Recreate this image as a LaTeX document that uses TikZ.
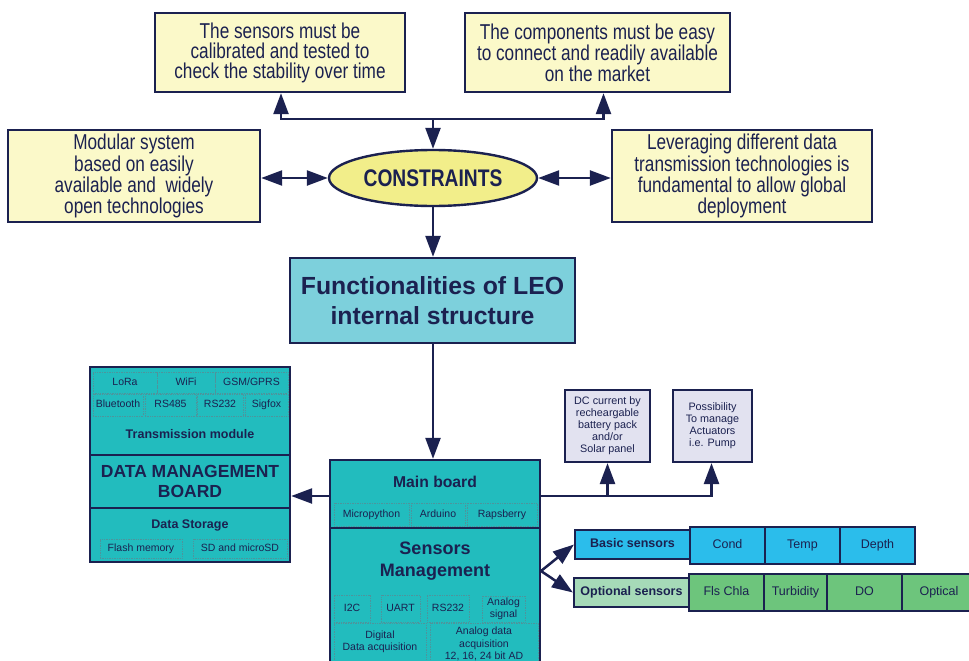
\documentclass[tikz,border=0pt]{standalone}
\usepackage{fontspec}
\setmainfont{Liberation Sans}
\newfontfamily\nar[FakeStretch=0.80]{Liberation Sans}
\usetikzlibrary{arrows.meta,shapes.geometric,calc}
\definecolor{navy}{HTML}{1B2150}
\definecolor{ybox}{HTML}{FBF9C9}
\definecolor{yell}{HTML}{F2EE8A}
\definecolor{func}{HTML}{7DD0DC}
\definecolor{teal}{HTML}{22BCBE}
\definecolor{lav}{HTML}{E2E2F0}
\definecolor{basic}{HTML}{2BBDEB}
\definecolor{optlab}{HTML}{A6DAB8}
\definecolor{optcell}{HTML}{6DC57C}
\definecolor{dotc}{HTML}{4E949C}
\newcommand\cell[6]{\node[#6, minimum width={(#4-#2)*1pt}, minimum height={(#5-#3)*1pt}] (#1) at ({(#2+#4)/2},{(#3+#5)/2})}
\tikzset{
 base/.style={draw=navy, line width=2.4pt, inner sep=0pt, align=center, text=navy},
 ybx/.style={base, fill=ybox, font=\nar\fontsize{21.5}{20}\selectfont},
 tealbx/.style={base, fill=teal},
 subm/.style={draw=dotc, densely dotted, line width=0.7pt, inner sep=0pt, align=center, text=navy, font=\fontsize{10.5}{12.5}\selectfont},
 sub/.style={subm, text height=8pt, text depth=2.5pt},
 lavbx/.style={base, line width=2.2pt, fill=lav, font=\fontsize{10.8}{12}\selectfont},
 sens/.style={base, line width=2.2pt, text height=9pt, text depth=3pt, font=\fontsize{12.5}{15}\selectfont},
 arr/.style={draw=navy, line width=2.5pt, -{Triangle[length=21pt,width=15pt]}},
 darr/.style={draw=navy, line width=2.5pt, {Triangle[length=21pt,width=15pt]}-{Triangle[length=21pt,width=15pt]}},
}
\begin{document}
\begin{tikzpicture}[x=1pt,y=-1pt]
\useasboundingbox[fill=white] (0,0) rectangle (969,661);
% constraint boxes
\cell{tl}{155}{13}{405}{92}{ybx}{The sensors must be\\calibrated and tested to\\check the stability over time};
\cell{tr}{465}{13}{730}{92}{ybx}{The components must be easy\\to connect and readily available\\on the market};
\cell{lb}{8}{130}{260}{222}{ybx}{Modular system\\based on easily\\available and\ \ widely\\open technologies};
\cell{rb}{612}{130}{872}{222}{ybx}{Leveraging different data\\transmission technologies is\\fundamental to allow global\\deployment};
\node[ellipse, draw=navy, line width=2.4pt, fill=yell, minimum width=208pt, minimum height=56pt, inner sep=0pt, text=navy, font=\nar\bfseries\fontsize{24}{26}\selectfont] (cons) at (433,178) {CONSTRAINTS};
\coordinate (j) at (433,119);
\coordinate (tlb) at ([xshift=1pt]tl.south);
\coordinate (trb) at ([xshift=6pt]tr.south);
% functionalities
\cell{func}{290}{258}{575}{343}{base, fill=func, font=\bfseries\fontsize{24.8}{30}\selectfont}{Functionalities of LEO\\internal structure};
% main board
\cell{mb}{330}{460}{540}{528}{tealbx}{};
\node[text=navy, font=\bfseries\fontsize{15.7}{18}\selectfont] at (435,482) {Main board};
\cell{mp}{334}{503}{409}{526}{sub}{Micropython};
\cell{ard}{411}{503}{465}{526}{sub}{Arduino};
\cell{rap}{467}{503}{537}{526}{sub}{Rapsberry};
% sensors management
\cell{sm}{330}{528}{540}{668}{tealbx}{};
\node[text=navy, align=center, font=\bfseries\fontsize{18}{22}\selectfont] at (435,561) {Sensors\\Management};
\cell{i2c}{334}{595}{370}{622}{sub}{I2C};
\cell{uart}{381}{595}{420}{622}{sub}{UART};
\cell{rs}{427}{595}{469}{622}{sub}{RS232};
\cell{ans}{482}{596}{525}{622}{subm}{Analog\\signal};
\cell{dda}{334}{623}{426}{661}{subm}{Digital\\Data acquisition};
\cell{ada}{430}{623}{538}{665}{subm}{Analog data\\acquisition\\12, 16, 24 bit AD};
% data management board
\cell{tm}{90}{367}{290}{455}{tealbx}{};
\cell{lora}{93}{372}{157}{393}{sub}{LoRa};
\cell{wifi}{157}{372}{215}{393}{sub}{WiFi};
\cell{gsm}{215}{372}{288}{393}{sub}{GSM/GPRS};
\cell{bt}{93}{394}{143}{416}{sub}{Bluetooth};
\cell{r485}{145}{394}{196}{416}{sub}{RS485};
\cell{r232}{197}{394}{243}{416}{sub}{RS232};
\cell{sig}{245}{394}{288}{416}{sub}{Sigfox};
\node[text=navy, font=\bfseries\fontsize{12.5}{15}\selectfont] at (190,434) {Transmission module};
\cell{dmb}{90}{455}{290}{508}{tealbx, font=\bfseries\fontsize{17.5}{20}\selectfont}{DATA MANAGEMENT\\BOARD};
\cell{ds}{90}{508}{290}{562}{tealbx}{};
\node[text=navy, font=\bfseries\fontsize{12.5}{15}\selectfont] at (190,525) {Data Storage};
\cell{fm}{100}{539}{182}{558}{sub}{Flash memory};
\cell{sd}{193}{539}{287}{558}{sub}{SD and microSD};
% power / actuators
\cell{dc}{565}{390}{650}{462}{lavbx}{DC current by\\recheargable\\battery pack\\and/or\\Solar panel};
\cell{pos}{673}{390}{752}{462}{lavbx}{Possibility\\To manage\\Actuators\\i.e. Pump};
% sensors
\cell{bas}{575}{530}{690}{559}{sens, fill=basic, font=\bfseries\fontsize{12.5}{15}\selectfont}{Basic sensors};
\cell{cond}{690}{527}{765}{564}{sens, fill=basic}{Cond};
\cell{temp}{765}{527}{840}{564}{sens, fill=basic}{Temp};
\cell{dep}{840}{527}{915}{564}{sens, fill=basic}{Depth};
\cell{opt}{574}{578}{689}{607}{sens, fill=optlab, font=\bfseries\fontsize{12.5}{15}\selectfont}{Optional sensors};
\cell{fls}{689}{574}{764}{611}{sens, fill=optcell}{Fls Chla};
\cell{tur}{764}{574}{827}{611}{sens, fill=optcell}{Turbidity};
\cell{do}{827}{574}{902}{611}{sens, fill=optcell}{DO};
\cell{optc}{902}{574}{976}{611}{sens, fill=optcell}{Optical};
% connectors
\draw[arr] (j) -| (tlb);
\draw[arr] (j) -| (trb);
\draw[arr] (j) -- (cons.north);
\draw[darr] (lb.east |- cons.west) -- (cons.west);
\draw[darr] (cons.east) -- (rb.west |- cons.east);
\draw[arr] (cons.south) -- (cons.south |- func.north);
\draw[arr] (cons.south |- func.south) -- (cons.south |- mb.north);
\draw[arr] ([yshift=-2pt]mb.west) -- ([yshift=-2pt]mb.west -| dmb.east);
\draw[arr] ([yshift=-2pt]mb.east) -| ([xshift=-1pt]pos.south);
\draw[arr] ([yshift=-2pt]mb.east -| dc.south) -- (dc.south);
\coordinate (s0) at (541,571);
\draw[arr] (s0) -- (bas.west);
\draw[arr] (s0) -- (opt.west);
\end{tikzpicture}
\end{document}
